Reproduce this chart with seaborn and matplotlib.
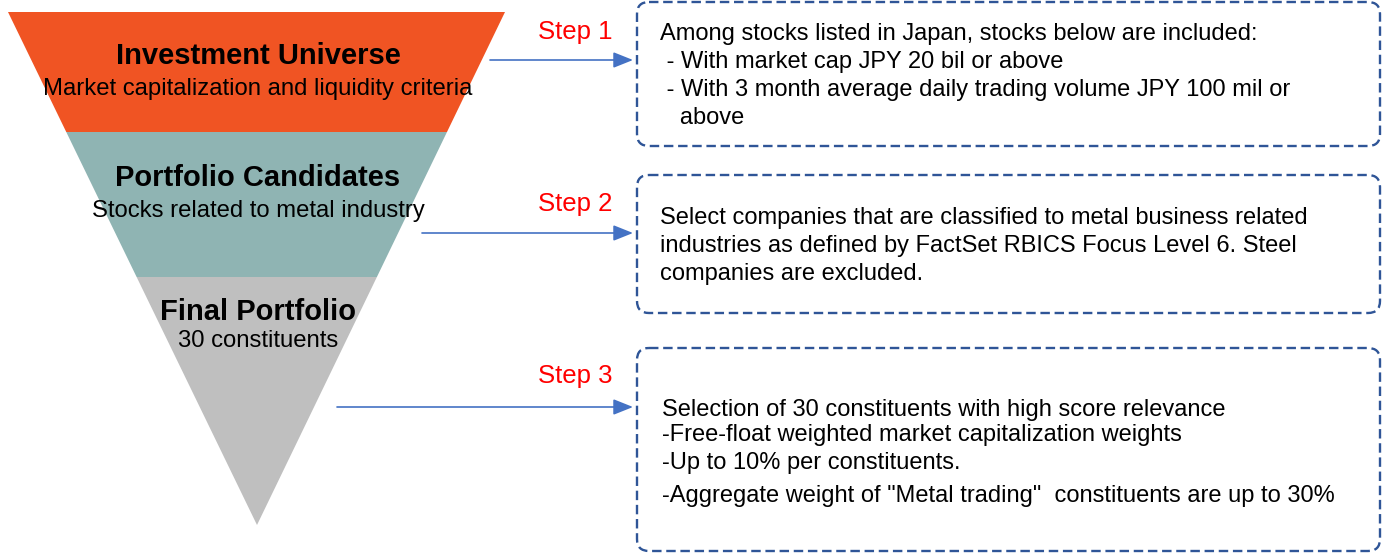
import matplotlib
matplotlib.use("Agg")
import matplotlib.pyplot as plt
from matplotlib.patches import Polygon, FancyBboxPatch
import seaborn as sns

sns.set_theme(style="white")
plt.rcParams['font.family'] = ['Liberation Sans', 'DejaVu Sans']

# ---- data ----
stage_titles = ["Investment Universe", "Portfolio Candidates", "Final Portfolio"]
stage_subtitles = ["Market capitalization and liquidity criteria",
                   "Stocks related to metal industry",
                   "30 constituents"]
stage_colors = ["#F05423", "#8FB4B3", "#BFBFBF"]
step_labels = ["Step 1", "Step 2", "Step 3"]
step_texts = [
    ["Among stocks listed in Japan, stocks below are included:",
     " - With market cap JPY 20 bil or above",
     " - With 3 month average daily trading volume JPY 100 mil or",
     "   above"],
    ["Select companies that are classified to metal business related",
     "industries as defined by FactSet RBICS Focus Level 6. Steel",
     "companies are excluded."],
    ["Selection of 30 constituents with high score relevance",
     "-Free-float weighted market capitalization weights",
     "-Up to 10% per constituents.",
     "-Aggregate weight of \"Metal trading\"  constituents are up to 30%"],
]

W, H = 1384, 553
fig = plt.figure(figsize=(W / 100, H / 100), dpi=100)
ax = fig.add_axes([0, 0, 1, 1])
ax.set_xlim(0, W)
ax.set_ylim(H, 0)
ax.axis("off")

# funnel geometry
top_y, xl, xr = 12, 8, 505
apex_x, apex_y = 257, 525
bounds = [12, 132, 277, 525]

def edge_x(y, side):
    t = (y - top_y) / (apex_y - top_y)
    x0 = xl if side == "l" else xr
    return x0 + (apex_x - x0) * t

for i, col in enumerate(stage_colors):
    y0, y1 = bounds[i], bounds[i + 1]
    if i < 2:
        pts = [(edge_x(y0, "l"), y0), (edge_x(y0, "r"), y0),
               (edge_x(y1, "r"), y1), (edge_x(y1, "l"), y1)]
    else:
        pts = [(edge_x(y0, "l"), y0), (edge_x(y0, "r"), y0), (apex_x, apex_y)]
    ax.add_patch(Polygon(pts, closed=True, facecolor=col, edgecolor="none"))

title_y = [56, 178, 312]
sub_y = [89, 211, 341]
for i in range(3):
    ax.text(258, title_y[i], stage_titles[i], ha="center", va="center",
            fontsize=21, fontweight="bold", color="black")
    ax.text(258, sub_y[i], stage_subtitles[i], ha="center", va="center",
            fontsize=17.2, color="black")

# steps, arrows
step_y = [32, 204, 376]
arrow_y = [60, 233, 407]
arrow_x0 = [490, 422, 337]
for i in range(3):
    ax.text(575, step_y[i], step_labels[i], ha="center", va="center",
            fontsize=18.5, color="#FF0000")
    ax.annotate("", xy=(633, arrow_y[i]), xytext=(arrow_x0[i], arrow_y[i]),
                arrowprops=dict(arrowstyle="-|>,head_length=1.0,head_width=0.4",
                                color="#4472C4", lw=1.2, shrinkA=0, shrinkB=0))

# boxes
boxes = [(637, 2, 1380, 146), (637, 175, 1380, 313), (637, 348, 1380, 551)]
for (x0, y0, x1, y1) in boxes:
    ax.add_patch(FancyBboxPatch((x0, y0), x1 - x0, y1 - y0,
                                boxstyle="round,pad=0,rounding_size=12",
                                facecolor="none", edgecolor="#2F5597",
                                lw=1.7, linestyle=(0, (4, 2))))

line_ys = [[34, 62, 90, 118], [218, 246, 274], [410, 435, 463, 496]]
text_x = [660, 660, 662]
for i in range(3):
    for txt, y in zip(step_texts[i], line_ys[i]):
        ax.text(text_x[i], y, txt, ha="left", va="center", fontsize=17,
                color="black")

fig.savefig("out.png", dpi=100)
